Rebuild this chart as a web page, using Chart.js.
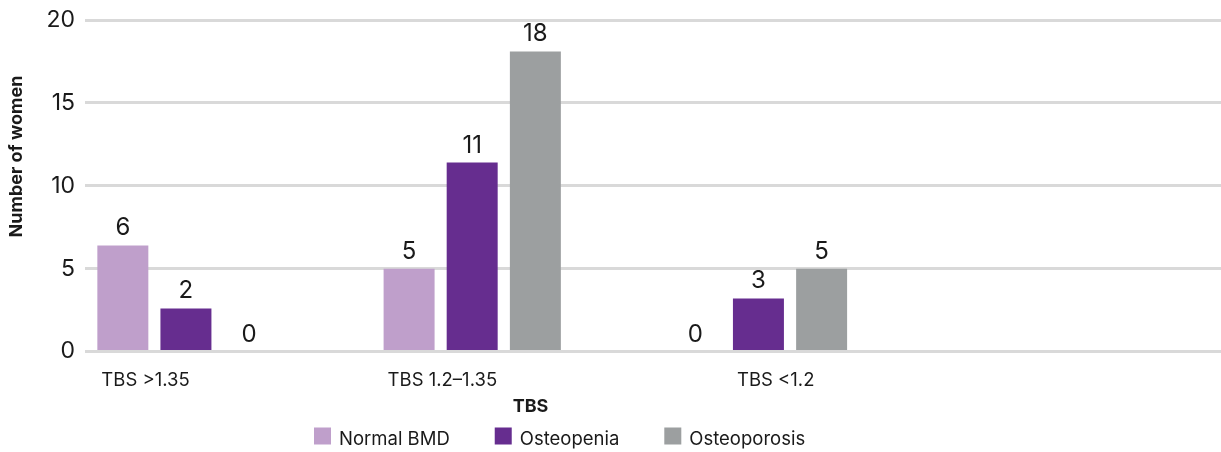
<!DOCTYPE html>
<html>
<head>
<meta charset="utf-8">
<script src="https://cdn.jsdelivr.net/npm/chart.js@4.4.1/dist/chart.umd.min.js"></script>
<style>
html,body{margin:0;padding:0;background:#ffffff;overflow:hidden;}
#wrap{width:1221px;height:452px;position:relative;overflow:hidden;}
#c{display:block;}
</style>
</head>
<body>
<div id="wrap"><canvas id="c" width="1230" height="452"></canvas></div>
<script>
// ---- data ----
const categories = ['TBS >1.35', 'TBS 1.2–1.35', 'TBS <1.2', ''];
const seriesNames = ['Normal BMD', 'Osteopenia', 'Osteoporosis'];
const normalBMD = [6.4, 5.0, 0, null];
const osteopenia = [2.6, 11.4, 3.2, null];
const osteoporosis = [0, 18.1, 5.0, null];
const normalBMDLabels = ['6', '5', '0'];
const osteopeniaLabels = ['2', '11', '3'];
const osteoporosisLabels = ['0', '18', '5'];
const yTickValues = [0, 5, 10, 15, 20];
const xAxisTitle = 'TBS';
const yAxisTitle = 'Number of women';

// ---- styles ----
const FONT = 'Inter, "Noto Sans", "DejaVu Sans", sans-serif';
const TEXT = '#1a1a1a';
const COLORS = ['#bf9fcb', '#662d8f', '#9c9fa0'];
const GRID = '#d9d9d9';
const LAYOUT = { xTitleX: 530.5, yTitleX: 16.5, yTitleY: 156.5, legendX: 314, legendGap: 8, legendPad: 45 };

const seriesValues = [normalBMD, osteopenia, osteoporosis];
const valueLabels = [normalBMDLabels, osteopeniaLabels, osteoporosisLabels];
// per-series group placement (fractions of category width)
const placement = [
  { categoryPercentage: 0.9808, barPercentage: 0.7265 },
  { categoryPercentage: 1.1792, barPercentage: 0.6043 },
  { categoryPercentage: 0.5868, barPercentage: 1.214 }
];

const datasets = seriesValues.map((vals, i) => Object.assign({
  label: seriesNames[i],
  data: vals,
  backgroundColor: COLORS[i],
  borderWidth: 0
}, placement[i]));
datasets.push({ label: '', data: categories.map(() => null), backgroundColor: 'rgba(0,0,0,0)' });

const annotate = {
  id: 'annotate',
  afterDatasetsDraw(chart) {
    const ctx = chart.ctx;
    const area = chart.chartArea;
    ctx.save();
    ctx.fillStyle = TEXT;
    // value labels
    ctx.font = `24px ${FONT}`;
    ctx.textAlign = 'center';
    ctx.textBaseline = 'alphabetic';
    valueLabels.forEach((labels, i) => {
      const meta = chart.getDatasetMeta(i);
      labels.forEach((t, j) => {
        const el = meta.data[j];
        if (!el || t == null) return;
        ctx.fillText(t, el.x, el.y - 10);
      });
    });
    // category labels
    ctx.font = `18.5px ${FONT}`;
    ctx.textAlign = 'left';
    categories.forEach((c, j) => {
      if (!c) return;
      let left = null;
      for (let i = 0; i < seriesValues.length; i++) {
        if (seriesValues[i][j] > 0) {
          const el = chart.getDatasetMeta(i).data[j];
          left = el.x - el.width / 2;
          break;
        }
      }
      if (left === null) left = chart.scales.x.getPixelForValue(j);
      ctx.fillText(c, left + 4, area.bottom + 34);
    });
    // x title
    ctx.font = `bold 18px ${FONT}`;
    ctx.textAlign = 'center';
    ctx.fillText(xAxisTitle, LAYOUT.xTitleX, area.bottom + 60);
    // y title
    ctx.save();
    ctx.translate(LAYOUT.yTitleX, LAYOUT.yTitleY);
    ctx.rotate(-Math.PI / 2);
    ctx.font = `bold 18px ${FONT}`;
    ctx.textAlign = 'center';
    ctx.textBaseline = 'middle';
    ctx.fillText(yAxisTitle, 0, 0);
    ctx.restore();
    // legend
    ctx.font = `18.5px ${FONT}`;
    ctx.textAlign = 'left';
    ctx.textBaseline = 'alphabetic';
    let x = LAYOUT.legendX;
    const boxTop = area.bottom + 76;
    seriesNames.forEach((name, i) => {
      ctx.fillStyle = COLORS[i];
      ctx.fillRect(x, boxTop, 17, 17);
      ctx.fillStyle = TEXT;
      const tx = x + 17 + LAYOUT.legendGap;
      ctx.fillText(name, tx, area.bottom + 93.5);
      x = tx + ctx.measureText(name).width + LAYOUT.legendPad;
    });
    ctx.restore();
  }
};

new Chart(document.getElementById('c'), {
  type: 'bar',
  data: { labels: categories, datasets },
  plugins: [annotate],
  options: {
    responsive: false,
    devicePixelRatio: 1,
    animation: false,
    layout: { padding: { top: 20, right: 0, left: 0, bottom: 0 } },
    plugins: { legend: { display: false }, tooltip: { enabled: false } },
    scales: {
      x: {
        grid: { display: false },
        border: { display: false },
        ticks: { display: false },
        afterFit(scale) { scale.height = 100.5; scale.paddingLeft = 0; scale.paddingRight = 0; }
      },
      y: {
        min: 0,
        max: 20,
        afterBuildTicks(scale) { scale.ticks = yTickValues.map(v => ({ value: v })); },
        grid: { color: GRID, lineWidth: 3, drawTicks: false },
        border: { display: false },
        ticks: { padding: 10, color: TEXT, font: { family: FONT, size: 23 } },
        afterFit(scale) { scale.width = 85; scale.paddingTop = 0; scale.paddingBottom = 0; }
      }
    }
  }
});
</script>
</body>
</html>
